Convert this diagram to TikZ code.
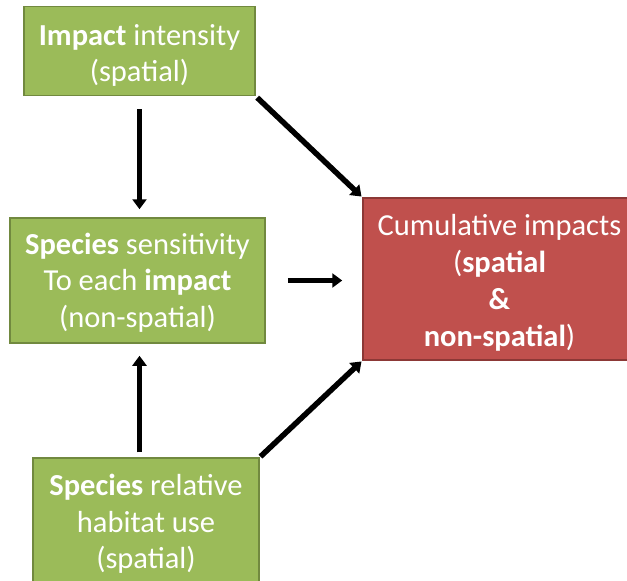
\documentclass[tikz,border=0pt]{standalone}
\usepackage{fontspec}
\setmainfont{Carlito}
\usetikzlibrary{arrows.meta}
\definecolor{gfill}{HTML}{9BBB59}
\definecolor{gdraw}{HTML}{71893F}
\definecolor{rfill}{HTML}{C0504D}
\definecolor{rdraw}{HTML}{8C3836}
\newcommand{\boxtext}[2]{\raisebox{0pt}[\dimexpr\height+#1\relax]{\begin{tabular}{@{}c@{}}#2\end{tabular}}}
\tikzset{
  gbox/.style={draw=gdraw, fill=gfill, line width=1.5pt, text=white,
    inner sep=0pt, font=\fontsize{30.5}{36.5}\selectfont},
  rbox/.style={draw=rdraw, fill=rfill, line width=1.5pt, text=white,
    inner sep=0pt, font=\fontsize{30.5}{37}\selectfont},
  bigarrow/.style={line width=5.5pt, -{Triangle[length=10pt,width=14pt]}}
}
\begin{document}
\begin{tikzpicture}[x=1pt,y=-1pt]
\useasboundingbox (0,0) rectangle (627,581);
\node[gbox, minimum width=231pt, minimum height=89pt] (top) at (139.5,51)
  {\boxtext{10pt}{\textbf{Impact} intensity\\(spatial)}};
\node[gbox, minimum width=255pt, minimum height=125pt] (mid) at (137.5,280.5)
  {\boxtext{6pt}{\textbf{Species} sensitivity\\To each \textbf{impact}\\(non-spatial)}};
\node[gbox, minimum width=226pt, minimum height=128pt] (bot) at (146,522)
  {\boxtext{6pt}{\textbf{Species} relative\\habitat use\\(spatial)}};
\node[rbox, minimum width=273pt, minimum height=162pt] (red) at (499.5,279)
  {\boxtext{10pt}{Cumulative impacts\\(\textbf{spatial}\\\textbf{\&}\\\textbf{non-spatial})}};
\draw[bigarrow, shorten <=13pt, shorten >=8pt] (top.south) -- (top.south |- mid.north);
\draw[bigarrow, shorten <=2pt, shorten >=1pt] (top.south east) -- (red.north west);
\draw[bigarrow, shorten <=22pt, shorten >=20pt] (mid.east) -- (mid.east -| red.west);
\draw[bigarrow, shorten <=5pt, shorten >=12pt] (bot.north -| top.south) -- (mid.south -| top.south);
\draw[bigarrow, shorten <=1pt, shorten >=1pt] (bot.north east) -- (red.south west);
\end{tikzpicture}
\end{document}
